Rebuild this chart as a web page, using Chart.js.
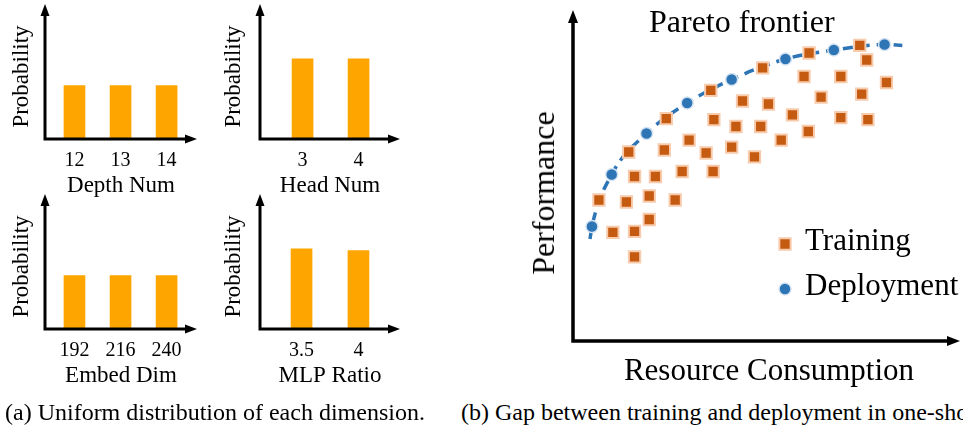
<!DOCTYPE html>
<html lang="en">
<head>
<meta charset="UTF-8" />
<title>Search space and Pareto gap</title>
<script src="https://cdn.jsdelivr.net/npm/chart.js@4.4.1/dist/chart.umd.min.js"></script>
<style>
  body { margin: 0; width: 963px; height: 427px; overflow: hidden; background: #fff; position: relative;
         font-family: 'Liberation Serif', 'Times New Roman', serif; color: #000; }
  canvas, .txt { position: absolute; }
  .txt { white-space: nowrap; line-height: 1; }
</style>
</head>
<body>
<canvas id="depth" width="200" height="200" style="left:0;top:0"></canvas>
<canvas id="head" width="193" height="200" style="left:210px;top:0"></canvas>
<canvas id="embed" width="200" height="200" style="left:0;top:190px"></canvas>
<canvas id="mlp" width="193" height="200" style="left:210px;top:190px"></canvas>
<canvas id="pareto" width="450" height="360" style="left:520px;top:0"></canvas>

<div class="txt" style="left:649px;top:5px;font-size:32px">Pareto frontier</div>
<div class="txt" style="left:543px;top:193px;font-size:32px;transform:translate(-50%,-50%) rotate(-90deg)">Performance</div>
<div class="txt" style="left:769px;top:354px;font-size:31px;transform:translateX(-50%)">Resource Consumption</div>
<div class="txt" style="left:5px;top:400px;font-size:24px">(a) Uniform distribution of each dimension.</div>
<div class="txt" style="left:461px;top:400px;font-size:24px">(b) Gap between training and deployment in one-shot NAS.</div>

<script>
  // (a) sampling probability of each choice
  var depthNums = [12, 13, 14];
  var depthProb = [0.333, 0.333, 0.333];
  var headNums = [3, 4];
  var headProb = [0.5, 0.5];
  var embedDims = [192, 216, 240];
  var embedProb = [0.333, 0.333, 0.333];
  var mlpRatios = [3.5, 4];
  var mlpProb = [0.5, 0.49];

  // (b) resource consumption (x) vs performance (y), arbitrary units 0-100
  var trainCost = [74.1, 61.0, 75.9, 49.0, 59.7, 69.2, 81.0, 35.6, 43.8, 50.5, 64.1, 74.6, 24.1,
                   36.4, 42.1, 48.5, 56.7, 69.2, 76.2, 60.8, 30.0, 53.8, 14.4, 23.6, 34.4, 41.0,
                   46.9, 15.9, 21.3, 28.2, 36.2, 6.7, 13.8, 19.7, 26.4, 19.7, 10.3, 15.9, 15.9];
  var trainPerf = [89.3, 87.0, 84.9, 82.5, 79.9, 79.9, 78.1, 75.7, 72.5, 71.6, 73.7, 74.6, 67.2,
                   66.9, 64.8, 64.8, 68.3, 67.5, 66.9, 63.3, 60.7, 60.7, 57.1, 57.7, 56.8, 58.6,
                   55.6, 49.7, 49.7, 51.2, 51.2, 42.6, 42.0, 43.8, 42.6, 36.7, 32.8, 33.1, 25.4];
  var deployCost = [4.9, 10.0, 19.0, 29.5, 41.0, 54.9, 67.4, 80.5];
  var deployPerf = [34.6, 50.3, 62.7, 71.9, 79.0, 85.2, 87.9, 89.6];
  var frontierCost = [4.4, 4.9, 10.0, 19.0, 29.5, 41.0, 54.9, 67.4, 80.5, 85.1];
  var frontierPerf = [30.8, 34.6, 50.3, 62.7, 71.9, 79.0, 85.2, 87.9, 89.6, 89.3];

  Chart.defaults.font.family = "'Liberation Serif', 'Times New Roman', serif";
  Chart.defaults.color = '#000';

  // axis lines with arrow heads
  var arrowAxes = {
    id: 'arrowAxes',
    afterDatasetsDraw: function (chart, args, o) {
      var ctx = chart.ctx, a = chart.chartArea;
      var top = a.top - o.extY, right = a.right + o.extX;
      ctx.save();
      ctx.strokeStyle = '#000';
      ctx.fillStyle = '#000';
      ctx.lineWidth = o.width;
      ctx.lineJoin = 'miter';
      ctx.beginPath();
      ctx.moveTo(a.left, top + o.head - 1);
      ctx.lineTo(a.left, a.bottom);
      ctx.lineTo(right - o.head + 1, a.bottom);
      ctx.stroke();
      ctx.beginPath();
      ctx.moveTo(a.left, top);
      ctx.lineTo(a.left - o.half, top + o.head);
      ctx.lineTo(a.left + o.half, top + o.head);
      ctx.closePath();
      ctx.fill();
      ctx.beginPath();
      ctx.moveTo(right, a.bottom);
      ctx.lineTo(right - o.head, a.bottom - o.half);
      ctx.lineTo(right - o.head, a.bottom + o.half);
      ctx.closePath();
      ctx.fill();
      ctx.restore();
    }
  };

  // legend drawn inside the plot area
  var insideLegend = {
    id: 'insideLegend',
    afterDraw: function (chart, args, o) {
      if (!o.items) return;
      var ctx = chart.ctx;
      ctx.save();
      ctx.font = o.size + "px 'Liberation Serif', 'Times New Roman', serif";
      ctx.textBaseline = 'alphabetic';
      o.items.forEach(function (label, i) {
        var ds = chart.data.datasets.find(function (d) { return d.label === label; });
        var y = o.y[i];
        ctx.fillStyle = ds.backgroundColor;
        ctx.strokeStyle = ds.borderColor;
        ctx.lineWidth = ds.borderWidth;
        ctx.beginPath();
        if (ds.pointStyle === 'rect') {
          var s = ds.pointRadius * Math.SQRT1_2;
          ctx.rect(o.x - s, y - s, 2 * s, 2 * s);
        } else {
          ctx.arc(o.x, y, ds.pointRadius, 0, Math.PI * 2);
        }
        ctx.fill();
        ctx.stroke();
        ctx.fillStyle = '#000';
        ctx.fillText(label, o.x + o.gap, y + o.shift);
      });
      ctx.restore();
    }
  };

  Chart.register(arrowAxes, insideLegend);

  function barPanel(id, cats, probs, title, g) {
    var step = cats[1] - cats[0];
    var points = cats.map(function (c, i) { return { x: c, y: probs[i] }; });
    return new Chart(document.getElementById(id), {
      type: 'bar',
      data: { datasets: [{ data: points, backgroundColor: '#FFA500', barThickness: 21 }] },
      options: {
        responsive: false,
        animation: false,
        layout: { padding: { top: 14, right: 3, left: 0, bottom: 0 } },
        plugins: {
          legend: { display: false },
          tooltip: { enabled: false },
          arrowAxes: { extY: 10, extX: 0, width: 3, head: 12, half: 4.5 }
        },
        scales: {
          x: {
            type: 'linear',
            offset: false,
            min: cats[0] - g.gapL * step,
            max: cats[cats.length - 1] + g.gapR * step,
            grid: { display: false, drawTicks: false },
            border: { display: false },
            afterBuildTicks: function (s) { s.ticks = cats.map(function (v) { return { value: v }; }); },
            ticks: { padding: 10, font: { size: 20 }, maxRotation: 0, autoSkip: false,
                     callback: function (v) { return String(v); } },
            title: { display: true, text: title, font: { size: 23 }, padding: 0 },
            afterFit: function (s) { s.height = 61; }
          },
          y: {
            min: 0,
            max: 0.78,
            ticks: { display: false },
            grid: { display: false, drawTicks: false },
            border: { display: false },
            title: { display: true, text: 'Probability', font: { size: 23 }, padding: { top: g.tpad, bottom: 0 } },
            afterFit: function (s) { s.width = g.axisW; }
          }
        }
      }
    });
  }

  barPanel('depth', depthNums, depthProb, 'Depth Num', { gapL: 0.64, gapR: 0.66, axisW: 45, tpad: 8 });
  barPanel('head', headNums, headProb, 'Head Num', { gapL: 0.76, gapR: 0.74, axisW: 50, tpad: 10 });
  barPanel('embed', embedDims, embedProb, 'Embed Dim', { gapL: 0.64, gapR: 0.66, axisW: 45, tpad: 8 });
  barPanel('mlp', mlpRatios, mlpProb, 'MLP Ratio', { gapL: 0.73, gapR: 0.73, axisW: 50, tpad: 10 });

  function zip(xs, ys) {
    return xs.map(function (x, i) { return { x: x, y: ys[i] }; });
  }

  new Chart(document.getElementById('pareto'), {
    type: 'scatter',
    data: {
      datasets: [
        { label: 'Deployment', data: zip(deployCost, deployPerf), pointStyle: 'circle', pointRadius: 6,
          backgroundColor: '#2E75B6', borderColor: '#D6E4F2', borderWidth: 1.5, order: 0 },
        { label: 'Training', data: zip(trainCost, trainPerf), pointStyle: 'rect', pointRadius: 8,
          backgroundColor: '#C55A11', borderColor: '#F8CBAD', borderWidth: 2, order: 1 },
        { label: 'frontier', type: 'line', data: zip(frontierCost, frontierPerf), borderColor: '#2E75B6',
          borderWidth: 3.5, borderDash: [10, 7], pointRadius: 0, cubicInterpolationMode: 'monotone',
          fill: false, order: 2 }
      ]
    },
    options: {
      responsive: false,
      animation: false,
      layout: { padding: { left: 53, right: 7, top: 3, bottom: 19 } },
      scales: {
        x: { display: false, min: 0, max: 100 },
        y: { display: false, min: 0, max: 100 }
      },
      plugins: {
        legend: { display: false },
        tooltip: { enabled: false },
        arrowAxes: { extY: 0, extX: 0, width: 3.5, head: 13, half: 5 },
        insideLegend: { items: ['Training', 'Deployment'], x: 265, y: [244, 289], gap: 20, shift: 6, size: 31 }
      }
    }
  });
</script>
</body>
</html>
